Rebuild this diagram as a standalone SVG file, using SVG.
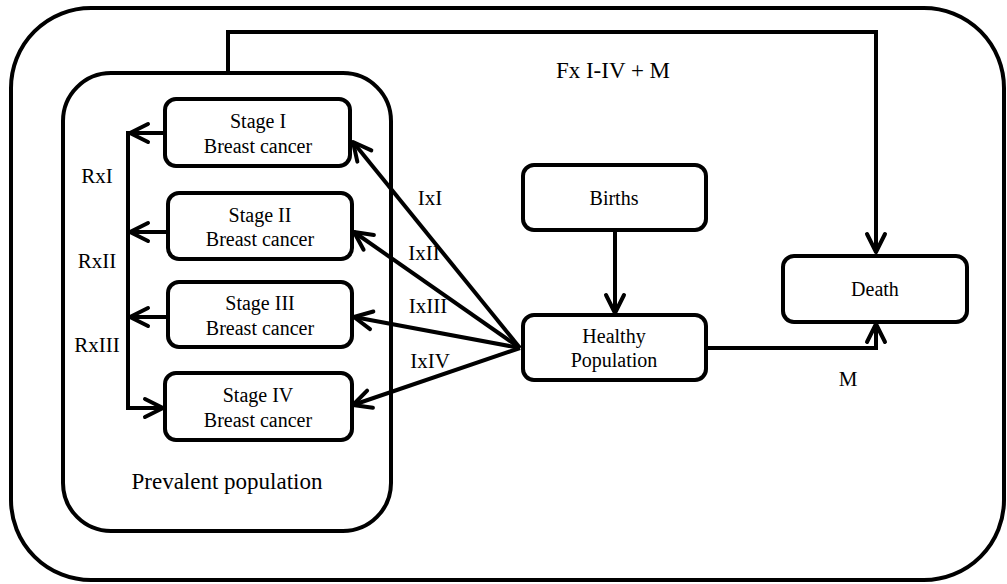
<svg xmlns="http://www.w3.org/2000/svg" width="1007" height="584" viewBox="0 0 1007 584">
<style>
.box{fill:#fff;stroke:#000;stroke-width:4}
.frame{fill:none;stroke:#000;stroke-width:4}
.t{font-family:'Liberation Serif','Times New Roman',serif;fill:#000;text-anchor:middle}
.s20{font-size:20px}
.s21{font-size:21px}
.s23{font-size:23px}
.c{fill:none;stroke:#000;stroke-width:4;stroke-linejoin:miter}
</style>
<defs>
<marker id="arr" markerUnits="userSpaceOnUse" markerWidth="30" markerHeight="30" viewBox="-25 -15 30 30" refX="0" refY="0" orient="auto">
<path d="M-18,-9 L0,0 L-18,9" fill="none" stroke="#000" stroke-width="4" stroke-linejoin="round" stroke-linecap="round"/>
</marker>
</defs>
<rect class="frame" x="11" y="8" width="993" height="572" rx="80" ry="80"/>
<g id="prevalent">
<rect class="frame" x="63" y="73" width="328" height="458" rx="48" ry="48"/>
<text class="t s23" x="227" y="489">Prevalent population</text>
</g>
<g id="connectors">
<path class="c" d="M228,73 V32 H876 V252" marker-end="url(#arr)"/>
<path class="c" d="M706,348 H876 V324" marker-end="url(#arr)"/>
<path class="c" d="M615,230 V313" marker-end="url(#arr)"/>
<path class="c" d="M165,133 H130" marker-end="url(#arr)"/>
<path class="c" d="M168,232 H130" marker-end="url(#arr)"/>
<path class="c" d="M168,317 H130" marker-end="url(#arr)"/>
<path class="c" d="M128,131 V408 H163" marker-end="url(#arr)"/>
<path class="c" d="M520,348 L353,142" marker-end="url(#arr)"/>
<path class="c" d="M520,348 L354,232" marker-end="url(#arr)"/>
<path class="c" d="M520,348 L354,317" marker-end="url(#arr)"/>
<path class="c" d="M520,348 L353,405" marker-end="url(#arr)"/>
<text class="t s23" x="613" y="78">Fx I-IV + M</text>
<text class="t s21" x="848" y="386">M</text>
<text class="t s21" x="97" y="183">RxI</text>
<text class="t s21" x="97" y="268">RxII</text>
<text class="t s21" x="97" y="352">RxIII</text>
<text class="t s21" x="430" y="205">IxI</text>
<text class="t s21" x="424" y="260">IxII</text>
<text class="t s21" x="428" y="313">IxIII</text>
<text class="t s21" x="430" y="368">IxIV</text>
</g>
<g id="stage1">
<rect class="box" x="165" y="99" width="185" height="67" rx="11"/>
<text class="t s20" x="258" y="128">Stage I</text>
<text class="t s20" x="258" y="153">Breast cancer</text>
</g>
<g id="stage2">
<rect class="box" x="168" y="193" width="184" height="66" rx="11"/>
<text class="t s20" x="260" y="222">Stage II</text>
<text class="t s20" x="260" y="246">Breast cancer</text>
</g>
<g id="stage3">
<rect class="box" x="168" y="282" width="184" height="65" rx="11"/>
<text class="t s20" x="260" y="310">Stage III</text>
<text class="t s20" x="260" y="335">Breast cancer</text>
</g>
<g id="stage4">
<rect class="box" x="165" y="373" width="187" height="67" rx="11"/>
<text class="t s20" x="258" y="402">Stage IV</text>
<text class="t s20" x="258" y="427">Breast cancer</text>
</g>
<g id="births">
<rect class="box" x="523" y="165" width="183" height="65" rx="11"/>
<text class="t s20" x="614" y="205">Births</text>
</g>
<g id="healthy">
<rect class="box" x="523" y="315" width="183" height="65" rx="11"/>
<text class="t s20" x="614" y="343">Healthy</text>
<text class="t s20" x="614" y="367">Population</text>
</g>
<g id="death">
<rect class="box" x="783" y="256" width="184" height="66" rx="11"/>
<text class="t s20" x="875" y="296">Death</text>
</g>
</svg>
